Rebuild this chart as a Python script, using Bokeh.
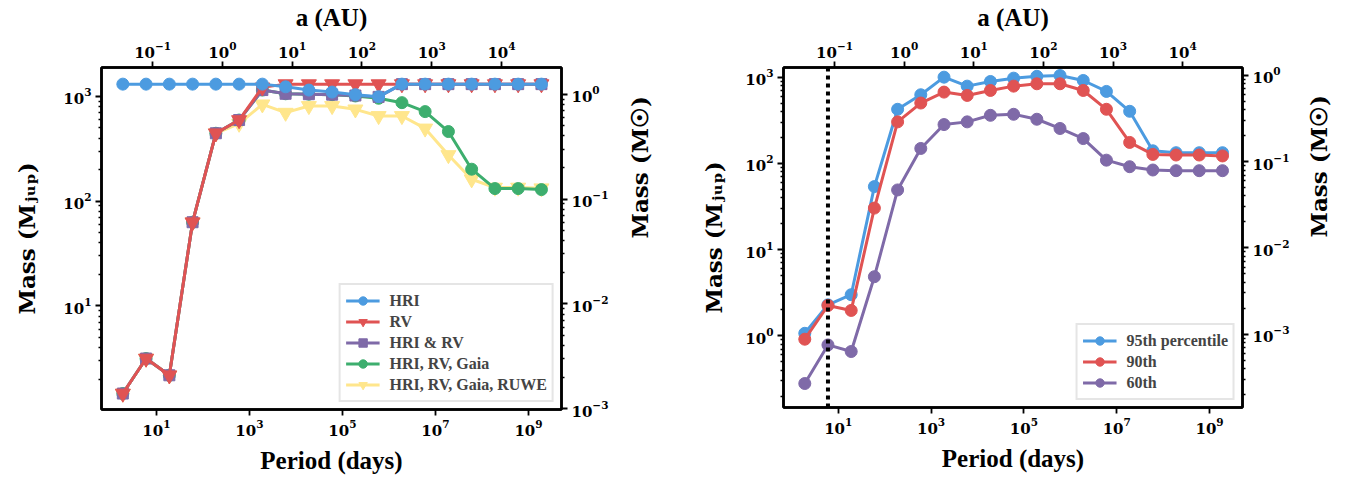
import math
from bokeh.plotting import figure
from bokeh.models import (Range1d, LogAxis, LogScale, FixedTicker, LogTickFormatter,
                          Legend, LegendItem, Span)
from bokeh.layouts import row
from bokeh.embed import file_html
from bokeh.resources import INLINE

# ---------------- data ----------------
period_days = [1.9, 6.0, 19, 60, 190, 600, 1.9e3, 6.0e3, 1.9e4, 6.0e4, 1.9e5, 6.0e5,
               1.9e6, 6.0e6, 1.9e7, 6.0e7, 1.9e8, 6.0e8, 1.9e9]

# left panel (M_Jup)
hri = [1310, 1310, 1310, 1310, 1310, 1310, 1310, 1235, 1150, 1100, 1040, 995,
       1310, 1310, 1310, 1310, 1310, 1310, 1310]
rv = [1.46, 3.15, 2.18, 63, 445, 595, 1220, 1310, 1310, 1310, 1310, 1310,
      1310, 1310, 1310, 1310, 1310, 1310, 1310]
hri_rv = [1.46, 3.15, 2.18, 63, 445, 595, 1150, 1060, 1050, 1040, 1020, 990,
          1310, 1310, 1310, 1310, 1310, 1310, 1310]
hri_rv_gaia = [1.46, 3.15, 2.18, 63, 445, 595, 1150, 1060, 1050, 1040, 1010, 960,
               872, 716, 462, 202, 132, 132, 129]
hri_rv_gaia_ruwe = [1.46, 3.15, 2.18, 63, 445, 550, 841, 700, 811, 811, 753, 651,
                    651, 495, 276, 162, 135, 135, 133]

left_labels = ["HRI", "RV", "HRI & RV", "HRI, RV, Gaia", "HRI, RV, Gaia, RUWE"]

# right panel (M_Jup)
p95 = [1.07, 2.29, 3.0, 53.8, 424, 625, 1000, 787, 891, 974, 1023, 1045,
       915, 683, 402, 140, 133, 133, 133]
p90 = [0.914, 2.25, 1.97, 30.3, 303, 501, 671, 614, 701, 787, 838, 838,
       701, 424, 175, 127, 125, 125, 122]
p60 = [0.28, 0.785, 0.658, 4.85, 49.2, 149, 282, 303, 361, 371, 325, 254,
       194, 109, 91.5, 83.8, 82.3, 82.3, 82.3]
right_labels = ["95th percentile", "90th", "60th"]

vline_period = [6.0]

# ---------------- styling constants ----------------
MJUP_PER_MSUN = 1047.6
P_AT_1AU = 263.0  # days, scaling for the top a (AU) axis
BLUE, RED, PURPLE, GREEN, YELLOW = "#4C9BE0", "#E05353", "#7F6AA8", "#3DAE6E", "#FFE68C"
TICK_FONT = "DejaVu Serif"
LABEL_FONT = "Liberation Serif"

X_START = 10 ** -0.18
X_END = 10 ** 9.71


def decade_ticks(lo, hi):
    majors, minors = [], []
    e0 = math.floor(math.log10(lo)) - 1
    e1 = math.ceil(math.log10(hi)) + 1
    for e in range(e0, e1 + 1):
        v = 10.0 ** e
        if lo <= v <= hi:
            majors.append(v)
        for m in range(2, 10):
            w = m * 10.0 ** e
            if lo <= w <= hi:
                minors.append(w)
    return majors, minors


def style_axis(ax, label_size="22px", label_font=LABEL_FONT, standoff=12):
    ax.axis_line_color = "black"
    ax.axis_line_width = 2.5
    ax.major_tick_line_width = 1.8
    ax.minor_tick_line_width = 1.3
    ax.major_tick_out = 6
    ax.major_tick_in = 0
    ax.minor_tick_out = 3
    ax.minor_tick_in = 0
    ax.major_label_text_font = TICK_FONT
    ax.major_label_text_font_style = "bold"
    ax.major_label_text_font_size = "15px"
    ax.major_label_text_color = "black"
    ax.axis_label_text_font = label_font
    ax.axis_label_text_font_style = "bold"
    ax.axis_label_text_font_size = label_size
    ax.axis_label_text_color = "black"
    ax.axis_label_standoff = standoff
    ax.major_label_standoff = 4
    ax.formatter = LogTickFormatter()


def make_fig(y0, y1, fw, fh, bl, br, bt, bb, left_standoff, right_standoff):
    p = figure(x_axis_type="log", y_axis_type="log",
               x_range=Range1d(X_START, X_END), y_range=Range1d(y0, y1),
               frame_width=fw, frame_height=fh,
               min_border_left=bl, min_border_right=br, min_border_top=bt, min_border_bottom=bb,
               toolbar_location=None, output_backend="svg",
               background_fill_color="white", border_fill_color="white")
    p.grid.visible = False
    p.outline_line_color = "black"
    p.outline_line_width = 2.5

    # bottom axis
    xb = p.below[0]
    xb.ticker = FixedTicker(ticks=[1e1, 1e3, 1e5, 1e7, 1e9], minor_ticks=[])
    xb.axis_label = "Period (days)"
    style_axis(xb, label_size="25px", standoff=8)

    # left axis
    yl = p.left[0]
    maj, mnr = decade_ticks(y0, y1)
    yl.ticker = FixedTicker(ticks=maj, minor_ticks=mnr)
    yl.axis_label = "Mass (Mⱼᵤₚ)"
    style_axis(yl, label_size="23px", label_font="DejaVu Serif", standoff=left_standoff)

    # top axis: semi-major axis
    a0 = (X_START / P_AT_1AU) ** (2.0 / 3.0)
    a1 = (X_END / P_AT_1AU) ** (2.0 / 3.0)
    p.extra_x_ranges = {"au": Range1d(a0, a1)}
    p.extra_x_scales = {"au": LogScale()}
    xt = LogAxis(x_range_name="au", axis_label="a (AU)")
    xt.ticker = FixedTicker(ticks=[1e-1, 1e0, 1e1, 1e2, 1e3, 1e4], minor_ticks=[])
    style_axis(xt, label_size="25px", standoff=8)
    p.add_layout(xt, "above")

    # right axis: solar masses
    m0, m1 = y0 / MJUP_PER_MSUN, y1 / MJUP_PER_MSUN
    p.extra_y_ranges = {"msun": Range1d(m0, m1)}
    p.extra_y_scales = {"msun": LogScale()}
    yr = LogAxis(y_range_name="msun", axis_label="Mass (M☉)")
    maj2, mnr2 = decade_ticks(m0, m1)
    yr.ticker = FixedTicker(ticks=maj2, minor_ticks=mnr2)
    style_axis(yr, label_size="23px", label_font="DejaVu Serif", standoff=right_standoff)
    yr.axis_label_orientation = math.pi / 2
    p.add_layout(yr, "right")
    return p


def add_series(p, y, color, marker, size):
    ln = p.line(period_days, y, line_color=color, line_width=3)
    sc = p.scatter(period_days, y, marker=marker, size=size, fill_color=color,
                   line_color=color, line_width=1)
    return [ln, sc]


def style_legend(lg):
    lg.location = "bottom_right"
    lg.margin = 7
    lg.padding = 5
    lg.spacing = 0
    lg.glyph_width = 34
    lg.glyph_height = 21
    lg.label_height = 21
    lg.label_standoff = 10
    lg.label_text_font = LABEL_FONT
    lg.label_text_font_style = "bold"
    lg.label_text_font_size = "16px"
    lg.border_line_color = "#cccccc"
    lg.border_line_width = 2
    lg.background_fill_alpha = 0.85


# ---------------- left panel ----------------
p1 = make_fig(10 ** 0.012, 10 ** 3.276, 460, 342, 101, 113, 59, 67, 20, 28)
r_ruwe = add_series(p1, hri_rv_gaia_ruwe, YELLOW, "inverted_triangle", 15)
r_gaia = add_series(p1, hri_rv_gaia, GREEN, "circle", 12)
r_hrirv = add_series(p1, hri_rv, PURPLE, "square", 11)
r_rv = add_series(p1, rv, RED, "inverted_triangle", 15)
r_hri = add_series(p1, hri, BLUE, "circle", 12)
lg1 = Legend(items=[LegendItem(label=left_labels[0], renderers=r_hri),
                    LegendItem(label=left_labels[1], renderers=r_rv),
                    LegendItem(label=left_labels[2], renderers=r_hrirv),
                    LegendItem(label=left_labels[3], renderers=r_gaia),
                    LegendItem(label=left_labels[4], renderers=r_ruwe)])
style_legend(lg1)
p1.add_layout(lg1)

# ---------------- right panel ----------------
p2 = make_fig(10 ** -0.831, 10 ** 3.112, 459, 340, 109, 101, 61, 67, 15, 26)
r95 = add_series(p2, p95, BLUE, "circle", 12)
r90 = add_series(p2, p90, RED, "circle", 12)
r60 = add_series(p2, p60, PURPLE, "circle", 12)
p2.add_layout(Span(location=vline_period[0], dimension="height", line_color="black",
                   line_width=4, line_dash="4 4"))
lg2 = Legend(items=[LegendItem(label=right_labels[0], renderers=r95),
                    LegendItem(label=right_labels[1], renderers=r90),
                    LegendItem(label=right_labels[2], renderers=r60)])
style_legend(lg2)
p2.add_layout(lg2)

layout = row(p1, p2)
open("out.html", "w").write(file_html(layout, INLINE))
